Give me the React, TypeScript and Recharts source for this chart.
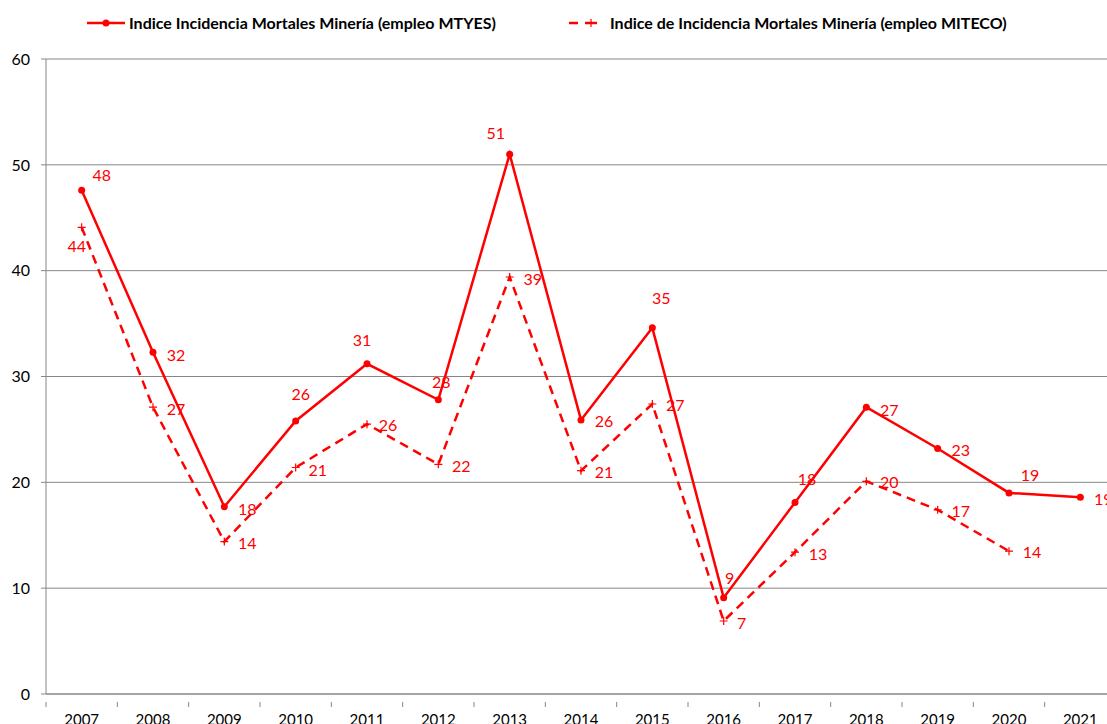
import { LineChart, Line, XAxis, YAxis, CartesianGrid } from 'recharts';

const years = ['2007', '2008', '2009', '2010', '2011', '2012', '2013', '2014', '2015', '2016', '2017', '2018', '2019', '2020', '2021'];
const mtyes = [47.6, 32.3, 17.7, 25.8, 31.2, 27.8, 51.0, 25.9, 34.6, 9.1, 18.1, 27.1, 23.2, 19.0, 18.6];
const miteco = [44.1, 27.1, 14.4, 21.4, 25.5, 21.7, 39.4, 21.1, 27.4, 6.9, 13.4, 20.1, 17.4, 13.5, null];
const yTicks = [0, 10, 20, 30, 40, 50, 60];

const nameMtyes = 'Indice Incidencia Mortales Minería (empleo MTYES)';
const nameMiteco = 'Indice de Incidencia Mortales Minería (empleo MITECO)';

// label centre offsets from the point, per year
const mtyesLabelPos = [
  [20, -16], [23, 2], [23, 2], [5, -27], [-5, -24], [3, -18], [-14, -22], [23, 1],
  [9, -30], [6, -20], [12, -24], [23, 2], [23, 1], [21, -18], [23, 1],
];
const mitecoLabelPos = [
  [-5, 18], [23, 1], [23, 1], [22, 2], [21, 0], [23, 1], [23, 1], [23, 1],
  [23, 0], [18, 2], [23, 1], [23, 0], [23, 1], [23, 0], [23, 0],
];

const data = years.map((year, i) => ({ year, mtyes: mtyes[i], miteco: miteco[i] }));

const RED = '#ff0000';
const GREY = '#868686';
const FONT = 'Lato, "Open Sans", sans-serif';
const CHART_W = 1140;
const PLOT_LEFT = 46;
const PLOT_RIGHT = 1116;
const HALF_BAND = (PLOT_RIGHT - PLOT_LEFT) / years.length / 2;

function makeLabel(pos: number[][]) {
  return (props: any) => {
    const { x, y, value, index } = props;
    if (value == null || x == null || y == null) return null;
    const [dx, dy] = pos[index] || [23, 0];
    return (
      <text
        key={`l-${index}`}
        x={x + dx}
        y={y + dy}
        textAnchor="middle"
        dominantBaseline="central"
        fill={RED}
        fontSize={16}
        fontFamily={FONT}
      >
        {Math.round(value)}
      </text>
    );
  };
}

function PlusDot(props: any) {
  const { cx, cy, index, value } = props;
  if (value == null || cx == null || cy == null) return <g key={`p-${index}`} />;
  return (
    <path
      key={`p-${index}`}
      d={`M${cx - 4},${cy}H${cx + 4}M${cx},${cy - 4}V${cy + 4}`}
      stroke={RED}
      strokeWidth={1.2}
      fill="none"
    />
  );
}

function YearTick(props: any) {
  const { x, y, payload } = props;
  return (
    <g>
      <line x1={x - HALF_BAND} x2={x - HALF_BAND} y1={y} y2={y + 5} stroke={GREY} strokeWidth={1} />
      <text x={x} y={y + 23} textAnchor="middle" fontSize={15} fontFamily={FONT} fill="#000">
        {payload.value}
      </text>
    </g>
  );
}

function LegendBox() {
  const textStyle = { fontFamily: FONT, fontWeight: 700, fontSize: 16, color: '#000', whiteSpace: 'nowrap' as const, lineHeight: '20px' };
  return (
    <div style={{ position: 'absolute', left: 0, top: 13, width: 1107, height: 24 }}>
      <svg style={{ position: 'absolute', left: 87, top: 2 }} width={40} height={16}>
        <line x1={0} x2={38} y1={8} y2={8} stroke={RED} strokeWidth={2.5} />
        <circle cx={19} cy={8} r={3.5} fill={RED} />
      </svg>
      <span style={{ ...textStyle, position: 'absolute', left: 129, top: 0 }}>{nameMtyes}</span>
      <svg style={{ position: 'absolute', left: 569, top: 2 }} width={32} height={16}>
        <line x1={0} x2={9} y1={8} y2={8} stroke={RED} strokeWidth={2.5} />
        <line x1={16} x2={28} y1={8} y2={8} stroke={RED} strokeWidth={2.5} />
        <path d="M22,4V12" stroke={RED} strokeWidth={1.2} />
      </svg>
      <span style={{ ...textStyle, position: 'absolute', left: 610, top: 0 }}>{nameMiteco}</span>
    </div>
  );
}

export default function App() {
  return (
    <div style={{ position: 'fixed', left: 0, top: 0, width: 1107, height: 724, overflow: 'hidden', background: '#fff' }}>
      <LineChart width={CHART_W} height={724} data={data} margin={{ top: 59, right: CHART_W - PLOT_RIGHT, left: 0, bottom: 0 }}>
        <CartesianGrid vertical={false} stroke={GREY} strokeWidth={1} />
        <XAxis
          dataKey="year"
          height={30}
          axisLine={{ stroke: GREY }}
          tickLine={false}
          interval={0}
          padding={{ left: HALF_BAND, right: HALF_BAND }}
          tick={<YearTick />}
        />
        <YAxis
          width={PLOT_LEFT}
          domain={[0, 60]}
          ticks={yTicks}
          axisLine={{ stroke: GREY }}
          tickLine={{ stroke: GREY }}
          tickSize={5}
          tickMargin={11}
          tick={{ fill: '#000', fontSize: 16, fontFamily: FONT }}
        />
        <Line
          dataKey="mtyes"
          name={nameMtyes}
          stroke={RED}
          strokeWidth={2.5}
          dot={{ r: 3.5, fill: RED, stroke: RED, strokeWidth: 0 }}
          label={makeLabel(mtyesLabelPos)}
          isAnimationActive={false}
        />
        <Line
          dataKey="miteco"
          name={nameMiteco}
          stroke={RED}
          strokeWidth={2.5}
          strokeDasharray="9 6"
          dot={(p: any) => <PlusDot {...p} key={`pd-${p.index}`} />}
          label={makeLabel(mitecoLabelPos)}
          isAnimationActive={false}
        />
      </LineChart>
      <LegendBox />
    </div>
  );
}
